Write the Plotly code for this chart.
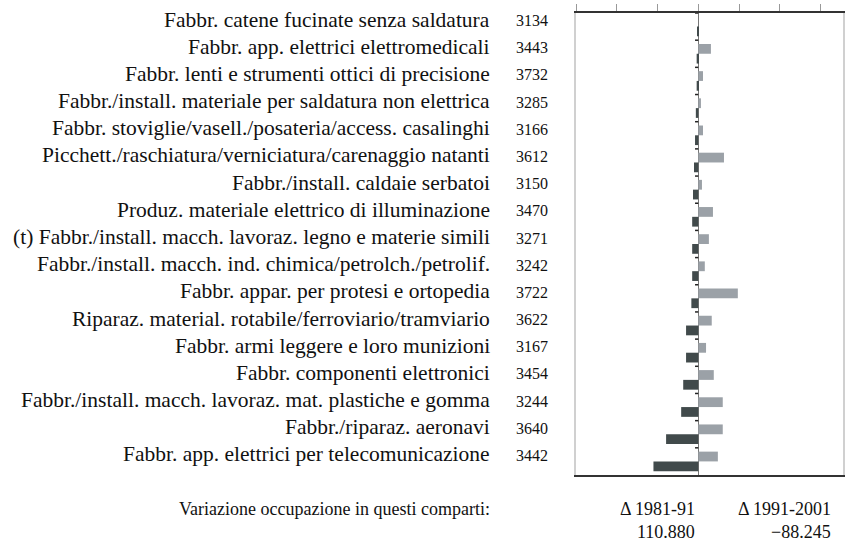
import plotly.graph_objects as go

# comparti (dall'alto in basso)
comparti = [
    "Fabbr. catene fucinate senza saldatura",
    "Fabbr. app. elettrici elettromedicali",
    "Fabbr. lenti e strumenti ottici di precisione",
    "Fabbr./install. materiale per saldatura non elettrica",
    "Fabbr. stoviglie/vasell./posateria/access. casalinghi",
    "Picchett./raschiatura/verniciatura/carenaggio natanti",
    "Fabbr./install. caldaie serbatoi",
    "Produz. materiale elettrico di illuminazione",
    "(t) Fabbr./install. macch. lavoraz. legno e materie simili",
    "Fabbr./install. macch. ind. chimica/petrolch./petrolif.",
    "Fabbr. appar. per protesi e ortopedia",
    "Riparaz. material. rotabile/ferroviario/tramviario",
    "Fabbr. armi leggere e loro munizioni",
    "Fabbr. componenti elettronici",
    "Fabbr./install. macch. lavoraz. mat. plastiche e gomma",
    "Fabbr./riparaz. aeronavi",
    "Fabbr. app. elettrici per telecomunicazione",
]
codici = ["3134", "3443", "3732", "3285", "3166", "3612", "3150", "3470", "3271",
          "3242", "3722", "3622", "3167", "3454", "3244", "3640", "3442"]

# variazioni
delta_81_91 = [-0.3, -0.4, -0.4, -0.6, -0.8, -1.05, -1.3, -1.5, -1.5, -1.5,
               -1.7, -3.0, -3.0, -3.7, -4.2, -7.9, -11.0]
delta_91_01 = [0, 3.1, 1.15, 0.65, 1.15, 6.3, 0.9, 3.6, 2.6, 1.6,
               9.7, 3.3, 1.9, 3.8, 6.0, 6.0, 4.8]

tot_label = "Variazione occupazione in questi comparti:"
tot_cols = ["Δ 1981-91", "Δ 1991-2001"]
tot_vals = ["110.880", "−88.245"]

pos = list(range(len(comparti)))
font = "Liberation Serif"

fig = go.Figure()
fig.add_trace(go.Bar(y=pos, x=delta_91_01, orientation='h', marker_color='#9ba1a7',
                     marker_line_width=0, name=tot_cols[1]))
fig.add_trace(go.Bar(y=pos, x=delta_81_91, orientation='h', marker_color='#414a4b',
                     marker_line_width=0, name=tot_cols[0]))

# trattini di separazione sulla linea dello zero
for i in range(len(comparti)):
    fig.add_shape(type='line', xref='x', yref='y', x0=-0.8, x1=0, y0=i - 0.5, y1=i - 0.5,
                  line=dict(color='#222', width=1.5))

x_lab = (491 - 576) / 269
x_cod = (532 - 576) / 269
for i, (c, k) in enumerate(zip(comparti, codici)):
    fig.add_annotation(x=x_lab, y=i, xref='paper', yref='y', text=c, showarrow=False,
                       xanchor='right', yanchor='middle', yshift=7,
                       font=dict(family=font, size=21.5, color='#111'))
    fig.add_annotation(x=x_cod, y=i, xref='paper', yref='y', text=k, showarrow=False,
                       xanchor='center', yanchor='middle', yshift=6,
                       font=dict(family=font, size=16, color='#111'))

fig.add_annotation(x=x_lab, y=-0.0736, xref='paper', yref='paper', text=tot_label,
                   showarrow=False, xanchor='right', yanchor='middle',
                   font=dict(family=font, size=18, color='#111'))
for xr, col, val in zip([(698 - 576) / 269, (835 - 576) / 269], tot_cols, tot_vals):
    fig.add_annotation(x=xr, y=-0.0736, xref='paper', yref='paper', text=col,
                       showarrow=False, xanchor='right', yanchor='middle',
                       font=dict(family=font, size=18, color='#111'))
    fig.add_annotation(x=xr, y=-0.1234, xref='paper', yref='paper', text=val,
                       showarrow=False, xanchor='right', yanchor='middle',
                       font=dict(family=font, size=18, color='#111'))

fig.update_layout(
    width=848, height=548,
    margin=dict(l=576, r=3, t=13, b=73),
    paper_bgcolor='white', plot_bgcolor='white',
    barmode='group', bargap=0.28, bargroupgap=0,
    showlegend=False,
    xaxis=dict(range=[-30, 35.5], side='top', tickvals=[-30, -20, -10, 0, 10, 20, 30],
               ticks='outside', ticklen=7, tickcolor='#999', tickwidth=1,
               showticklabels=False, showgrid=False,
               showline=True, linecolor='#333', linewidth=2, mirror=True,
               zeroline=True, zerolinecolor='#777', zerolinewidth=1),
    yaxis=dict(range=[16.5, -0.5], showticklabels=False, ticks='', showgrid=False,
               showline=True, linecolor='#d0d0d0', linewidth=1.5, mirror=True,
               zeroline=False),
)

fig.write_html("out.html", config={'displayModeBar': False},
               post_script="document.body.style.margin='0';")
